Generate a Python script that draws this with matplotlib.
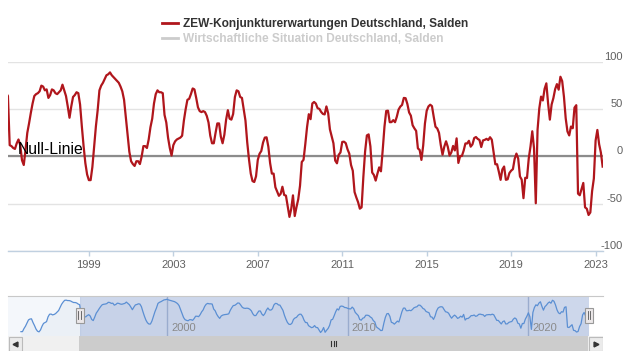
import matplotlib.pyplot as plt
from matplotlib.lines import Line2D
from matplotlib.patches import Rectangle
from matplotlib.transforms import blended_transform_factory
import numpy as np

plt.rcParams['font.family'] = ['Liberation Sans', 'DejaVu Sans']
plt.rcParams['axes.unicode_minus'] = False

# ZEW-Konjunkturerwartungen Deutschland, Salden - monthly, Dec 1991 .. May 2023
start_year = 1991
start_month = 12
salden = [
    -60,                                                        # 1991 (Dec)
    -60, -46, -35, -20, -6, -2, -1, -18, -32, -48, -58, -61,    # 1992
    -52, -35, -22, -18, -14, 8, 20, 21, 17, 19, 23, 30,         # 1993
    37, 52, 66, 76, 84, 85, 83, 83, 81, 77, 74, 74,             # 1994
    72, 67, 64, 12, 11, 9, 8, 14, 18, 12, -4, -9,               # 1995
    7, 25, 35, 46, 56, 64, 66, 67, 69, 75, 74, 70,              # 1996
    71, 62, 65, 71, 70, 67, 66, 68, 70, 76, 70, 64,             # 1997
    53, 41, 53, 63, 65, 68, 67, 55, 32, 11, -7, -19,            # 1998
    -25, -25, -11, 11, 32, 49, 70, 75, 78, 82, 86, 87,          # 1999
    89, 86, 84, 82, 80, 78, 74, 69, 60, 42, 25, 5,              # 2000
    -5, -8, -10, -5, -5, -8, 0, 11, 11, 9, 18, 31,              # 2001
    40, 56, 66, 70, 68, 68, 67, 44, 36, 20, 9, 1,               # 2002
    12, 16, 18, 19, 20, 22, 38, 50, 60, 61, 66, 72,             # 2003
    71, 62, 52, 48, 47, 48, 47, 43, 36, 22, 14, 14,             # 2004
    25, 35, 35, 21, 14, 23, 39, 49, 40, 39, 45, 63,             # 2005
    70, 69, 63, 62, 50, 38, 15, -3, -18, -26, -27, -21,         # 2006
    -3.6, 2.9, 5.8, 14.8, 20.0, 20.3, 10.4, -6.9, -18.1, -18.1, -32.5, -37.2,
    -41.6, -39.5, -32.0, -40.7, -41.4, -52.4, -63.9, -55.5, -41.1, -63.0, -53.5, -45.2,
    -31.0, -5.8, -3.5, 13.0, 31.1, 44.8, 39.5, 56.1, 57.7, 56.0, 51.1, 50.4,
    47.2, 45.1, 44.5, 53.0, 45.8, 28.7, 21.2, 14.0, -4.3, -7.2, 1.8, 4.3,
    15.4, 15.7, 14.1, 7.6, 3.1, -9.0, -15.1, -37.6, -43.3, -48.3, -55.2, -53.8,
    -21.6, 5.4, 22.3, 23.4, 10.8, -16.9, -19.6, -25.5, -18.2, -11.5, -15.7, 6.9,
    31.5, 48.2, 48.5, 36.3, 36.4, 38.5, 36.3, 42.0, 49.6, 52.8, 54.6, 62.0,
    61.7, 55.7, 46.6, 43.2, 33.1, 29.8, 27.1, 8.6, 6.9, -3.6, 11.5, 34.9,
    48.4, 53.0, 54.8, 53.3, 41.9, 31.5, 29.7, 25.0, 12.1, 1.9, 10.4, 16.1,
    10.2, 1.0, 4.3, 11.2, 6.4, 19.2, -6.8, 0.5, 0.5, 6.2, 13.8, 13.8,
    16.6, 10.4, 12.8, 19.5, 20.6, 18.6, 17.5, 10.0, 17.0, 17.6, 18.7, 17.4,
    20.4, 17.8, 5.1, -8.2, -8.2, -16.1, -24.7, -13.7, -10.6, -24.7, -24.1, -17.5,
    -15.0, -13.4, -2.5, 3.1, -2.1, -21.1, -24.5, -44.1, -22.5, -22.8, -2.1, 10.7,
    26.7, 8.7, -49.5, 28.2, 51.0, 63.4, 59.3, 71.5, 77.4, 56.1, 39.0, 55.0,
    61.8, 71.2, 76.6, 70.7, 84.4, 79.8, 63.3, 40.4, 26.5, 22.3, 31.7, 29.9,
    51.7, 54.3, -39.3, -41.0, -34.3, -28.0, -53.8, -55.3, -61.9, -59.2, -36.7, -23.3,
    16.9, 28.1, 13.0, 4.1, -10.7,                               # 2023
]

year_ticks = [1999, 2003, 2007, 2011, 2015, 2019, 2023]
value_ticks = [-100, -50, 0, 50, 100]
nav_years = [2000, 2010, 2020]
legend_labels = ['ZEW-Konjunkturerwartungen Deutschland, Salden',
                 'Wirtschaftliche Situation Deutschland, Salden']
view_start, view_end = 1995.17, 2023.35
nav_start, nav_end = 1991.20, 2024.13

t = start_year + (start_month - 1) / 12 + np.arange(len(salden)) / 12
red = '#b0161c'

W, H = 627, 352
fig = plt.figure(figsize=(W / 100, H / 100), dpi=100)

# main chart
ax = fig.add_axes([8 / W, (H - 251) / H, 595 / W, 189 / H])
ax.set_xlim(view_start, view_end)
ax.set_ylim(-100, 100)
ax.plot(t, salden, color=red, lw=1.6, zorder=3)
ax.axhline(0, color='#8c8c8c', lw=1.6, zorder=2)
ax.set_yticks(value_ticks)
ax.yaxis.tick_right()
ax.tick_params(axis='y', length=0, pad=14, labelsize=8, labelcolor='#606060')
for lab in ax.get_yticklabels():
    lab.set_horizontalalignment('right')
    lab.set_verticalalignment('bottom')
ax.grid(axis='y', color='#e3e3e3', lw=1, zorder=1)
ax.set_xticks(year_ticks)
ax.set_xticklabels([str(y) for y in year_ticks])
ax.tick_params(axis='x', direction='out', length=3.6, width=1, color='#c0d0e0',
               pad=3, labelsize=8, labelcolor='#606060')
for s in ['top', 'left', 'right']:
    ax.spines[s].set_visible(False)
ax.spines['bottom'].set_color('#c0d0e0')
ax.spines['bottom'].set_linewidth(1)
trans = blended_transform_factory(ax.transAxes, ax.transData)
ax.text(0.0168, 2.5, 'Null-Linie', transform=trans, fontsize=11.3, color='black',
        va='baseline', ha='left', zorder=5)

# legend
handles = [Line2D([], [], color=red, lw=2), Line2D([], [], color='#cccccc', lw=2)]
fig.legend(handles, legend_labels, loc='upper center', bbox_to_anchor=(0.503, 1 - 18 / H),
           frameon=False, prop={'weight': 'bold', 'size': 8.6},
           labelcolor=['#333333', '#cccccc'], handlelength=1.3, handletextpad=0.45,
           labelspacing=0.28, borderaxespad=0, borderpad=0)

# navigator
nav = fig.add_axes([8 / W, (H - 336) / H, 595 / W, 40 / H])
nav.set_xlim(nav_start, nav_end)
nav.set_ylim(-80, 104)
nav.axvspan(nav_start, view_start, color='#f4f7fb', zorder=0)
nav.fill_between(t, salden, -80, color='#4572a7', alpha=0.05, lw=0, zorder=1)
for y in nav_years:
    nav.axvline(y, color='#b4bfd4', lw=1, zorder=1)
    nav.text(y + 0.22, 0.2, str(y), transform=blended_transform_factory(nav.transData, nav.transAxes),
             fontsize=8, color='#8a8a8a', va='center', ha='left', zorder=4)
nav.axvspan(view_start, view_end, color=(102 / 255, 133 / 255, 194 / 255, 0.32), lw=0, zorder=2)
nav.plot(t, salden, color='#5b8fd3', lw=0.9, zorder=3)
nav.set_xticks([])
nav.set_yticks([])
for s in ['bottom', 'left', 'right']:
    nav.spines[s].set_visible(False)
nav.spines['top'].set_color('#c8c8c8')
ntr = blended_transform_factory(nav.transData, nav.transAxes)
hw = 8 / 18.07
for hx in [view_start, view_end]:
    nav.add_patch(Rectangle((hx - hw / 2, (336 - 323) / 40), hw, 15 / 40, transform=ntr,
                            fc='#ebe7e8', ec='#999999', lw=0.8, zorder=6, clip_on=False))
    for dx in [-0.07, 0.07]:
        nav.plot([hx + dx, hx + dx], [0.42, 0.62], transform=ntr, color='#555555',
                 lw=0.6, zorder=7, clip_on=False)

# scrollbar
sb = fig.add_axes([8 / W, 1 / H, 595 / W, 15 / H])
sb.set_xlim(0, 595)
sb.set_ylim(0, 15)
sb.axis('off')
sb.add_patch(Rectangle((0, 0), 595, 15, fc='#f0f0f0', lw=0))
sb.add_patch(Rectangle((71, 0), 509, 15, fc='#cccccc', lw=0))
sb.add_patch(Rectangle((0.5, 0.5), 13, 14, fc='#ebebeb', ec='#bbbbbb', lw=0.8))
sb.add_patch(Rectangle((580.5, 0.5), 14, 14, fc='#ebebeb', ec='#bbbbbb', lw=0.8))
sb.plot([7], [7.5], marker='<', ms=3.5, color='#333333')
sb.plot([587.5], [7.5], marker='>', ms=3.5, color='#333333')
for gx in [323, 325.5, 328]:
    sb.plot([gx, gx], [5, 10], color='#333333', lw=0.8)

fig.savefig('out.png', dpi=100)
